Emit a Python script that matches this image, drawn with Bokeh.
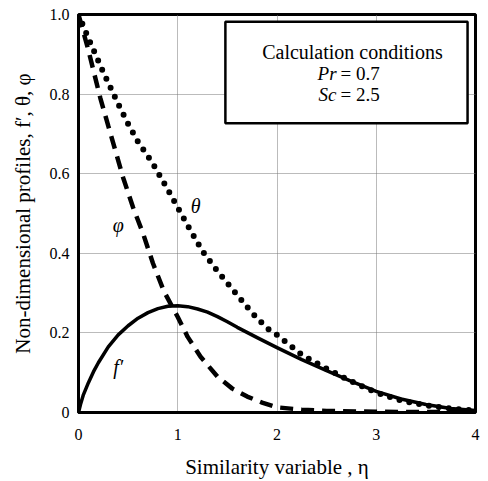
from bokeh.plotting import figure
from bokeh.models import Range1d, FixedTicker, PrintfTickFormatter, BoxAnnotation
from bokeh.core.properties import value
from bokeh.embed import file_html
from bokeh.resources import INLINE

# f' (solid)
eta_f = [0, 0.02, 0.05, 0.1, 0.15, 0.2, 0.3, 0.4, 0.5, 0.6, 0.7, 0.8, 0.9, 1.0, 1.1, 1.2, 1.3, 1.4, 1.5,
         1.6, 1.8, 2.0, 2.25, 2.5, 2.75, 3.0, 3.25, 3.5, 3.75, 4.0]
f_prime = [0, 0.02, 0.045, 0.075, 0.102, 0.125, 0.165, 0.195, 0.218, 0.237, 0.251, 0.261, 0.267, 0.268,
           0.266, 0.26, 0.252, 0.241, 0.228, 0.214, 0.188, 0.163, 0.133, 0.105, 0.078, 0.053, 0.034,
           0.02, 0.01, 0.005]

# theta (dotted)
eta_t = [0, 0.1, 0.25, 0.4, 0.5, 0.6, 0.75, 0.9, 1.0, 1.1, 1.25, 1.4, 1.5, 1.6, 1.75, 1.9, 2.0, 2.25,
         2.5, 2.75, 3.0, 3.25, 3.5, 3.75, 4.0]
theta = [1.0, 0.94, 0.855, 0.775, 0.725, 0.68, 0.625, 0.56, 0.515, 0.47, 0.405, 0.355, 0.325, 0.295,
         0.25, 0.212, 0.195, 0.145, 0.11, 0.078, 0.05, 0.03, 0.018, 0.01, 0.005]

# phi (dashed)
eta_p = [0, 0.05, 0.1, 0.15, 0.22, 0.3, 0.45, 0.55, 0.65, 0.75, 0.86, 1.0, 1.1, 1.23, 1.4, 1.55, 1.7,
         1.85, 2.0, 2.25, 2.5, 3.0, 3.5, 4.0]
phi = [1.0, 0.955, 0.91, 0.86, 0.79, 0.72, 0.59, 0.515, 0.45, 0.375, 0.305, 0.24, 0.19, 0.14, 0.09,
       0.06, 0.04, 0.025, 0.013, 0.007, 0.004, 0.002, 0.001, 0.001]

x_ticks = [0, 1, 2, 3, 4]
y_ticks = [0, 0.2, 0.4, 0.6, 0.8, 1.0]

SERIF = "Liberation Serif"

p = figure(width=480, height=481, output_backend="svg", toolbar_location=None,
           x_range=Range1d(0, 4), y_range=Range1d(0, 1),
           min_border_left=78, min_border_right=5, min_border_top=14, min_border_bottom=68)
p.background_fill_color = "white"
p.border_fill_color = "white"
p.outline_line_color = "black"
p.outline_line_width = 3

p.xaxis.ticker = FixedTicker(ticks=x_ticks)
p.yaxis.ticker = FixedTicker(ticks=y_ticks)
p.yaxis.formatter = PrintfTickFormatter(format="%.1f")
p.yaxis.major_label_overrides = {0: "0"}

for ax in (p.xaxis, p.yaxis):
    ax.axis_line_color = "black"
    ax.axis_line_width = 3
    ax.major_tick_line_color = None
    ax.minor_tick_line_color = None
    ax.major_label_text_font = SERIF
    ax.major_label_text_font_size = "16px"
    ax.major_label_text_color = "black"
    ax.axis_label_text_font = SERIF
    ax.axis_label_text_font_size = "21px"
    ax.axis_label_text_font_style = "normal"
    ax.axis_label_text_color = "black"

p.xaxis.major_label_standoff = 10
p.yaxis.major_label_standoff = 3
p.xaxis.axis_label = "Similarity variable , η"
p.xaxis.axis_label_standoff = 12
p.yaxis.axis_label = "Non-dimensional profiles, f′, θ, φ"
p.yaxis.axis_label_standoff = 12

p.grid.grid_line_color = "#777777"
p.grid.grid_line_width = 1
p.grid.grid_line_dash = "1 1"

p.line(eta_f, f_prime, line_color="black", line_width=3.5, line_join="round")
p.line(eta_t, theta, line_color="black", line_width=6, line_dash="0 10", line_cap="round")
p.line(eta_p, phi, line_color="black", line_width=4.5, line_dash="13 8")

p.text(x=[0.40], y=[0.115], text=["f′"], text_font=value(SERIF), text_font_size="20px",
       text_font_style="italic", text_align="center", text_baseline="middle", text_color="black")
p.text(x=[0.40], y=[0.47], text=["φ"], text_font=value(SERIF), text_font_size="20px",
       text_font_style="italic", text_align="center", text_baseline="middle", text_color="black")
p.text(x=[1.18], y=[0.52], text=["θ"], text_font=value(SERIF), text_font_size="20px",
       text_font_style="italic", text_align="center", text_baseline="middle", text_color="black")

box = BoxAnnotation(left=1.48, right=3.92, bottom=0.727, top=0.982,
                    fill_color="white", fill_alpha=1.0, line_color="black", line_alpha=1.0,
                    line_width=2.5)
p.add_layout(box)

p.text(x=[2.76], y=[0.905], text=["Calculation conditions"], text_font=value(SERIF),
       text_font_size="20px", text_align="center", text_baseline="middle", text_color="black", level="overlay")
p.text(x=[2.6, 2.6], y=[0.852, 0.80], text=["Pr", "Sc"], text_font=value(SERIF),
       text_font_size="19px", text_font_style="italic", text_align="right", text_baseline="middle",
       text_color="black", level="overlay")
p.text(x=[2.6, 2.6], y=[0.852, 0.80], text=["= 0.7", "= 2.5"], text_font=value(SERIF),
       text_font_size="19px", text_align="left", text_baseline="middle", text_color="black",
       x_offset=4, level="overlay")

open("out.html", "w").write(file_html(p, INLINE))
